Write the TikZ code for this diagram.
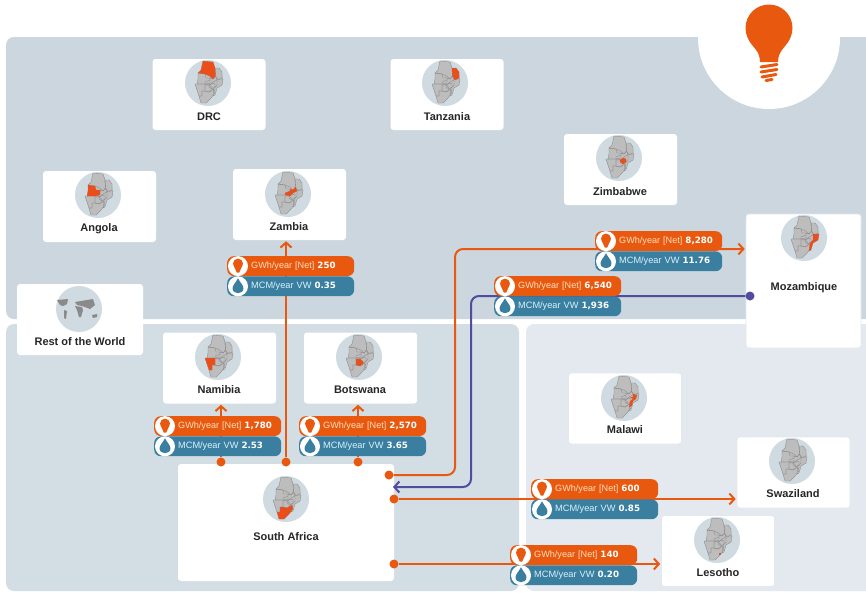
\documentclass[tikz,border=0pt]{standalone}
\usepackage{fontspec}
\usepackage{tikz}
\usetikzlibrary{positioning,arrows.meta}
\setmainfont{Liberation Sans}
\newfontfamily\valuefont{DejaVu Sans}

\definecolor{paneltop}{HTML}{CBD6DE}
\definecolor{panelleft}{HTML}{D3DDE4}
\definecolor{panelright}{HTML}{E3E9EE}
\definecolor{flowor}{HTML}{E8590F}
\definecolor{flowbl}{HTML}{3A7F9F}
\definecolor{flowpu}{HTML}{524C9E}
\definecolor{hilite}{HTML}{EA4E1B}
\definecolor{mapdisc}{HTML}{CFDAE1}
\definecolor{mapland}{HTML}{BDBDBD}
\definecolor{mapedge}{HTML}{8A8A8A}

\newcommand{\shapebase}{(-5,-22) -- (5,-21) -- (7,-15) -- (11,-15) -- (14,-11) -- (15,-4) -- (14,2) -- (9,5) -- (7,10) -- (3,15) -- (-2,20) -- (-7,20) -- (-9,13) -- (-11,7) -- (-13,1) -- (-11,1) -- (-10,-4) -- (-10,-10) -- (-7,-13) -- cycle}
\newcommand{\shapedrc}{(-5,-22) -- (5,-21) -- (7,-15) -- (7.5,-7) -- (5,-4) -- (1.5,-7) -- (-3,-9) -- (-10,-10) -- (-7,-13) -- cycle}
\newcommand{\shapetz}{(7,-15) -- (11,-15) -- (14,-11) -- (14,-5) -- (10,-3) -- (7.5,-7) -- cycle}
\newcommand{\shapeao}{(-10,-10) -- (-3,-9) -- (-2,-5) -- (2,-5) -- (2,0) -- (-3,1) -- (-11,1) -- (-10,-4) -- cycle}
\newcommand{\shapezm}{(-3,1) -- (-3,-1) -- (2,-3) -- (2,-5) -- (5,-4) -- (7.5,-7) -- (9,-3) -- (5,-1) -- (2,2) -- cycle}
\newcommand{\shapemz}{(9,-4) -- (15,-4) -- (14,2) -- (9,5) -- (7,12) -- (5,13) -- (6,5) -- (9,2) -- cycle}
\newcommand{\shapemw}{(9,-4) -- (13,-3) -- (12,1) -- (9,3) -- (8,8) -- (5,9) -- (6,3) -- (9,1) -- (6,-1) -- (9,-1) -- cycle}
\newcommand{\shapezw}{(1,2) -- (4,0) -- (7,1) -- (7,4) -- (4,6) -- (1,4) -- cycle}
\newcommand{\shapebw}{(-3,2) -- (1,2) -- (4,4.5) -- (4,7) -- (1,9) -- (-3,8) -- cycle}
\newcommand{\shapena}{(-13,1) -- (-3,1) -- (-3,8) -- (-6,8) -- (-6,13) -- (-9,13) -- (-11,7) -- cycle}
\newcommand{\shapeza}{(-9,13) -- (-6,13) -- (-6,8) -- (-3,8) -- (1,9) -- (4,7) -- (6,6) -- (7,10) -- (3,15) -- (-2,20) -- (-7,20) -- cycle}
\newcommand{\shapels}{(2,12.5) -- (4,12.5) -- (4,15) -- (2,15) -- cycle}

% disc with the small region map, #2 is the part in colour
\newcommand{\regionmap}[2]{
    \begin{scope}[shift={(#1)}]
        \fill[mapdisc] (0,0) circle (23pt);
        \fill[mapland] \shapebase;
        \foreach \part in {\shapedrc,\shapetz,\shapeao,\shapezm,\shapemz,\shapezw,\shapebw,\shapena,\shapeza}
            \draw[mapedge,line width=0.35pt,line join=round] \part;
        \fill[hilite] #2;
    \end{scope}
}

% the two stacked labels of one flow
\newcommand{\flowpills}[4]{
    \node[gwhpill] (#1gwh) at (#2) {\hspace*{24pt}GWh/year [Net] {\valuefont\bfseries\fontsize{8.7}{11}\selectfont\color{white}#3}};
    \node[mcmpill,below=0pt of #1gwh] (#1mcm) {\hspace*{24pt}MCM/year VW {\valuefont\bfseries\fontsize{8.7}{11}\selectfont\color{white}#4}};
    \begin{scope}[shift={([xshift=11pt]#1gwh.west)}]
        \fill[white] (0,0) circle (10pt);
        \fill[flowor] (0,-2.5) circle (5pt);
        \fill[flowor] (-4.5,-1) -- (4.5,-1) -- (1.2,6.5) -- (-1.2,6.5) -- cycle;
    \end{scope}
    \begin{scope}[shift={([xshift=11pt]#1mcm.west)}]
        \fill[white] (0,0) circle (10pt);
        \fill[flowbl] (0,-8) .. controls (2,-4) and (5.5,-1) .. (5.5,2) .. controls (5.5,8.5) and (-5.5,8.5) .. (-5.5,2) .. controls (-5.5,-1) and (-2,-4) .. (0,-8);
    \end{scope}
}

\begin{document}
\begin{tikzpicture}[x=1pt,y=-1pt]
    \tikzstyle{card}=[rectangle,fill=white,rounded corners=3pt,inner sep=0pt,minimum width=113pt,minimum height=71pt]
    \tikzstyle{cardedge}=[card,draw=paneltop!55!white,line width=0.6pt]
    \tikzstyle{cardname}=[font=\fontsize{11}{13}\selectfont\bfseries,text=black!85,inner sep=0pt]
    \tikzstyle{pill}=[rectangle,rounded corners=6.5pt,inner sep=0pt,minimum height=19.8pt,text width=127pt,align=left]
    \tikzstyle{gwhpill}=[pill,anchor=north west,fill=flowor,text=orange!25!white,font=\fontsize{9.1}{11}\selectfont]
    \tikzstyle{mcmpill}=[pill,fill=flowbl,text=cyan!15!white,font=\fontsize{9.2}{11}\selectfont]
    \tikzstyle{flowdot}=[circle,inner sep=0pt,minimum size=9pt,fill=flowor]
    \tikzstyle{flow}=[draw=flowor,line width=2pt,rounded corners=8pt,shorten >=1pt,-{Straight Barb[length=5pt,width=11pt]}]

    \useasboundingbox (0,0) rectangle (866,592);

    % panels
    \fill[paneltop] (866,37) {[rounded corners=8pt] -- (6,37) -- (6,319)} -- (866,319) -- cycle;
    \fill[panelleft,rounded corners=8pt] (6,324) rectangle (519,591);
    \fill[panelright] (866,324) {[rounded corners=8pt] -- (526,324) -- (526,591)} -- (866,591) -- cycle;

    % big bulb
    \fill[white] (769,38) circle (71pt);
    \fill[flowor] (769,28) circle (23.5pt);
    \fill[flowor] (748,38) .. controls (752,48) and (760,50) .. (760,62) -- (778,62) .. controls (778,50) and (786,48) .. (790,38) -- cycle;
    \draw[flowor,line width=3pt,line cap=round] (761,67) -- (777,64.5);
    \draw[flowor,line width=3pt,line cap=round] (761,72) -- (777,69.5);
    \draw[flowor,line width=3pt,line cap=round] (762,77) -- (776,74.5);
    \draw[flowor,line width=3pt,line cap=round] (766,80.5) -- (772,79.5);

    % cards
    \node[card] (drc) at (209,94.5) {};
    \regionmap{208,83}{\shapedrc}
    \node[cardname] (drcname) at (209,116.5) {DRC};
    \node[card] (tz) at (447,94.5) {};
    \regionmap{445,83}{\shapetz}
    \node[cardname] (tzname) at (447,116.5) {Tanzania};
    \node[card] (ao) at (99.5,206.5) {};
    \regionmap{98,195}{\shapeao}
    \node[cardname] (aoname) at (99,228.5) {Angola};
    \node[card] (zm) at (289.5,204.5) {};
    \regionmap{288,194}{\shapezm}
    \node[cardname] (zmname) at (289,227) {Zambia};
    \node[card] (zw) at (620.5,169.5) {};
    \regionmap{619,158}{\shapezw}
    \node[cardname] (zwname) at (620,192) {Zimbabwe};
    \node[cardedge,minimum width=115pt,minimum height=134pt] (mz) at (803.5,281) {};
    \regionmap{804,238}{\shapemz}
    \node[cardname] (mzname) at (804,288) {Mozambique};
    \node[card,minimum width=126pt] (row) at (80,319.5) {};
    \begin{scope}[shift={(79,309)}]
        \fill[mapdisc] (0,0) circle (23pt);
        \fill[mapedge] (-22,-9) -- (-11,-10) -- (-12,-5) -- (-16,-3) -- (-19,-4) -- cycle;
        \fill[mapedge] (-15,1) -- (-12,2) -- (-13,10) -- (-15,9) -- cycle;
        \fill[mapedge] (-4,-7) -- (14,-10) -- (16,-4) -- (11,0) -- (6,-2) -- (3,-3) -- (-2,-4) -- cycle;
        \fill[mapedge] (-4,-3) -- (3,-2) -- (4,1) -- (2,8) -- (0,8) -- (-2,1) -- cycle;
        \fill[mapedge] (13,6) -- (18,5) -- (18,8) -- (14,9) -- cycle;
    \end{scope}
    \node[cardname] (rowname) at (80,342) {Rest of the World};
    \node[card] (na) at (219.5,368) {};
    \regionmap{218,357}{\shapena}
    \node[cardname] (naname) at (219,390) {Namibia};
    \node[card] (bw) at (360.5,368) {};
    \regionmap{359,357}{\shapebw}
    \node[cardname] (bwname) at (360,390) {Botswana};
    \node[card,minimum width=216pt,minimum height=117pt] (za) at (286,522.5) {};
    \regionmap{286,499}{\shapeza}
    \node[cardname] (zaname) at (286,537) {South Africa};
    \node[cardedge] (mw) at (625,408.5) {};
    \regionmap{624,398}{\shapemw}
    \node[cardname] (mwname) at (625,430) {Malawi};
    \node[cardedge] (sz) at (793.5,472.5) {};
    \regionmap{792,461}{}
    \node[cardname] (szname) at (793,494) {Swaziland};
    \node[cardedge] (ls) at (718,551) {};
    \regionmap{717,540}{\shapels}
    \node[cardname] (lsname) at (718,573) {Lesotho};

    % flows
    \node[flowdot] (dotna) at (221,462) {};
    \node[flowdot] (dotzm) at (286,462) {};
    \node[flowdot] (dotbw) at (358,462) {};
    \node[flowdot] (dotmz) at (389,475) {};
    \node[flowdot] (dotsz) at (394,499) {};
    \node[flowdot] (dotls) at (394,564) {};
    \node[flowdot,fill=flowpu] (dotback) at (750,296) {};
    \coordinate (bendmz) at (455,249);
    \coordinate (bendback) at (471,296);
    \coordinate (backin) at (393,487);
    \draw[flow] (dotna) -- (dotna |- na.south);
    \draw[flow] (dotzm) -- (dotzm |- zm.south);
    \draw[flow] (dotbw) -- (dotbw |- bw.south);
    \draw[flow] (dotmz) -| (bendmz) -- (bendmz -| mz.west);
    \draw[flow,draw=flowpu,shorten >=0pt] (dotback) -- (bendback) |- (backin);
    \draw[flow] (dotsz) -- (dotsz -| sz.west);
    \draw[flow] (dotls) -- (dotls -| ls.west);

    % labels on top of the lines
    \flowpills{zm}{227,256}{250}{0.35}
    \flowpills{mz}{595,231}{8,280}{11.76}
    \flowpills{back}{494,276}{6,540}{1,936}
    \flowpills{na}{154,416}{1,780}{2.53}
    \flowpills{bw}{299,416}{2,570}{3.65}
    \flowpills{sz}{531,479}{600}{0.85}
    \flowpills{ls}{510,545}{140}{0.20}
\end{tikzpicture}
\end{document}
